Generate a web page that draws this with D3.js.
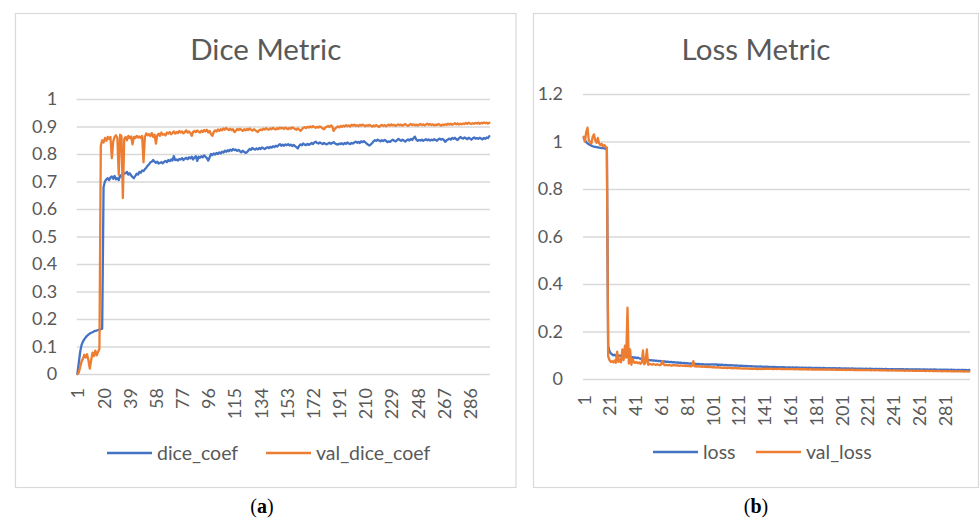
<!DOCTYPE html>
<html><head><meta charset="utf-8">
<script src="https://cdn.jsdelivr.net/npm/d3@7"></script>
<style>
html,body{margin:0;padding:0;background:#fff;}
svg{display:block;}
</style></head>
<body>
<svg id="chart" width="980" height="519"></svg>
<script>
// ---------- DATA ----------
const epochs = d3.range(1, 301);
const diceTickLabels = [1, 20, 39, 58, 77, 96, 115, 134, 153, 172, 191, 210, 229, 248, 267, 286];
const lossTickLabels = [1, 21, 41, 61, 81, 101, 121, 141, 161, 181, 201, 221, 241, 261, 281];
const diceYTicks = [0, 0.1, 0.2, 0.3, 0.4, 0.5, 0.6, 0.7, 0.8, 0.9, 1];
const lossYTicks = [0, 0.2, 0.4, 0.6, 0.8, 1, 1.2];

const dice_coef = [
0.000,0.040,0.080,0.105,0.118,0.126,0.133,0.139,0.143,0.147,
0.150,0.152,0.155,0.157,0.158,0.160,0.162,0.163,0.165,0.680,
0.700,0.708,0.712,0.705,0.715,0.718,0.710,0.720,0.708,0.712,
0.705,0.722,0.718,0.732,0.728,0.730,0.735,0.725,0.730,0.722,
0.716,0.712,0.720,0.728,0.725,0.735,0.732,0.740,0.738,0.745,
0.750,0.758,0.762,0.770,0.772,0.778,0.772,0.768,0.772,0.765,
0.768,0.770,0.766,0.772,0.775,0.770,0.778,0.774,0.780,0.776,
0.792,0.778,0.780,0.776,0.782,0.780,0.785,0.778,0.783,0.786,
0.781,0.788,0.784,0.790,0.780,0.788,0.792,0.775,0.790,0.786,
0.792,0.788,0.795,0.790,0.785,0.776,0.788,0.800,0.796,0.802,
0.798,0.804,0.800,0.806,0.802,0.808,0.805,0.812,0.808,0.814,
0.810,0.816,0.812,0.818,0.814,0.816,0.811,0.815,0.810,0.806,
0.812,0.808,0.804,0.806,0.812,0.818,0.815,0.822,0.818,0.816,
0.820,0.817,0.822,0.818,0.824,0.821,0.818,0.822,0.825,0.821,
0.826,0.823,0.828,0.825,0.830,0.827,0.832,0.836,0.830,0.834,
0.830,0.835,0.832,0.836,0.831,0.834,0.829,0.833,0.828,0.825,
0.820,0.830,0.835,0.832,0.838,0.834,0.832,0.837,0.833,0.836,
0.840,0.836,0.842,0.845,0.840,0.838,0.842,0.839,0.836,0.840,
0.837,0.835,0.838,0.841,0.837,0.840,0.843,0.838,0.836,0.834,
0.838,0.836,0.839,0.835,0.840,0.837,0.842,0.838,0.836,0.840,
0.838,0.842,0.845,0.841,0.844,0.840,0.846,0.843,0.847,0.842,
0.838,0.834,0.831,0.835,0.840,0.846,0.850,0.848,0.852,0.849,
0.846,0.850,0.847,0.851,0.848,0.843,0.846,0.844,0.849,0.852,
0.848,0.846,0.850,0.855,0.851,0.848,0.852,0.849,0.845,0.850,
0.853,0.849,0.855,0.851,0.858,0.863,0.852,0.848,0.851,0.849,
0.852,0.848,0.851,0.854,0.850,0.853,0.849,0.852,0.850,0.854,
0.851,0.848,0.853,0.856,0.852,0.855,0.851,0.844,0.850,0.853,
0.856,0.852,0.858,0.855,0.859,0.854,0.851,0.857,0.862,0.858,
0.856,0.860,0.857,0.854,0.859,0.856,0.852,0.857,0.860,0.856,
0.858,0.855,0.859,0.856,0.853,0.858,0.855,0.860,0.858,0.865];

const val_dice_coef = [
0.000,0.005,0.025,0.045,0.055,0.070,0.060,0.072,0.050,0.020,
0.050,0.078,0.065,0.085,0.068,0.080,0.092,0.830,0.850,0.842,
0.858,0.848,0.862,0.855,0.862,0.785,0.845,0.862,0.868,0.858,
0.725,0.870,0.865,0.640,0.855,0.862,0.850,0.866,0.858,0.864,
0.835,0.862,0.858,0.866,0.860,0.864,0.858,0.866,0.770,0.862,
0.875,0.868,0.872,0.865,0.876,0.862,0.870,0.838,0.868,0.874,
0.866,0.878,0.870,0.872,0.868,0.878,0.874,0.880,0.872,0.876,
0.882,0.874,0.880,0.876,0.884,0.878,0.882,0.875,0.880,0.886,
0.878,0.882,0.876,0.866,0.880,0.884,0.879,0.886,0.881,0.878,
0.885,0.880,0.887,0.882,0.888,0.878,0.884,0.872,0.866,0.880,
0.886,0.882,0.889,0.884,0.890,0.886,0.893,0.888,0.895,0.890,
0.887,0.892,0.886,0.890,0.880,0.884,0.891,0.887,0.892,0.888,
0.884,0.890,0.886,0.891,0.887,0.893,0.889,0.885,0.890,0.887,
0.883,0.880,0.886,0.889,0.887,0.892,0.889,0.894,0.890,0.888,
0.893,0.890,0.895,0.891,0.889,0.894,0.891,0.896,0.893,0.895,
0.891,0.896,0.893,0.890,0.895,0.892,0.897,0.894,0.891,0.888,
0.893,0.889,0.884,0.890,0.895,0.898,0.894,0.899,0.896,0.900,
0.897,0.901,0.898,0.895,0.899,0.896,0.900,0.897,0.893,0.890,
0.896,0.899,0.902,0.898,0.904,0.900,0.884,0.892,0.896,0.900,
0.897,0.902,0.899,0.903,0.900,0.905,0.901,0.904,0.900,0.906,
0.903,0.907,0.902,0.905,0.901,0.906,0.903,0.907,0.904,0.901,
0.905,0.902,0.906,0.903,0.900,0.904,0.901,0.905,0.902,0.898,
0.903,0.906,0.902,0.905,0.901,0.904,0.907,0.903,0.908,0.904,
0.906,0.902,0.905,0.908,0.904,0.907,0.903,0.906,0.909,0.905,
0.902,0.906,0.909,0.905,0.908,0.904,0.907,0.903,0.906,0.909,
0.905,0.908,0.904,0.907,0.910,0.906,0.909,0.905,0.908,0.904,
0.907,0.905,0.909,0.906,0.903,0.907,0.905,0.908,0.906,0.910,
0.907,0.910,0.906,0.909,0.912,0.908,0.911,0.907,0.910,0.908,
0.911,0.909,0.913,0.910,0.914,0.911,0.909,0.912,0.910,0.913,
0.911,0.914,0.910,0.913,0.911,0.915,0.912,0.914,0.911,0.914];

const loss = [
1.015,1.005,0.998,0.992,0.988,0.985,0.982,0.980,0.978,0.977,
0.976,0.975,0.974,0.973,0.972,0.972,0.971,0.970,0.968,0.140,
0.118,0.108,0.104,0.100,0.102,0.098,0.100,0.097,0.099,0.096,
0.098,0.094,0.096,0.093,0.095,0.092,0.094,0.090,0.092,0.089,
0.091,0.088,0.090,0.087,0.086,0.084,0.085,0.082,0.083,0.080,
0.081,0.079,0.078,0.079,0.077,0.078,0.076,0.077,0.075,0.076,
0.074,0.075,0.073,0.074,0.072,0.073,0.072,0.071,0.072,0.070,
0.071,0.070,0.069,0.070,0.068,0.069,0.068,0.067,0.068,0.066,
0.067,0.066,0.065,0.066,0.065,0.064,0.065,0.064,0.063,0.064,
0.063,0.062,0.063,0.062,0.061,0.062,0.061,0.062,0.061,0.062,
0.062,0.061,0.062,0.060,0.061,0.060,0.059,0.060,0.059,0.058,
0.059,0.058,0.058,0.057,0.058,0.057,0.057,0.056,0.057,0.056,
0.056,0.055,0.056,0.055,0.055,0.054,0.055,0.054,0.054,0.053,
0.054,0.053,0.053,0.052,0.053,0.052,0.052,0.053,0.052,0.051,
0.052,0.051,0.052,0.051,0.051,0.050,0.051,0.050,0.051,0.050,
0.050,0.050,0.049,0.050,0.049,0.050,0.049,0.049,0.048,0.049,
0.049,0.048,0.049,0.048,0.048,0.049,0.048,0.048,0.047,0.048,
0.048,0.047,0.048,0.047,0.047,0.048,0.047,0.047,0.046,0.047,
0.047,0.047,0.046,0.047,0.046,0.046,0.047,0.046,0.046,0.045,
0.046,0.046,0.045,0.046,0.045,0.046,0.045,0.045,0.046,0.045,
0.045,0.044,0.045,0.045,0.044,0.045,0.044,0.044,0.045,0.044,
0.044,0.044,0.043,0.044,0.044,0.043,0.044,0.043,0.043,0.044,
0.043,0.043,0.044,0.043,0.043,0.042,0.043,0.043,0.042,0.043,
0.042,0.043,0.042,0.042,0.043,0.042,0.042,0.041,0.042,0.042,
0.042,0.041,0.042,0.041,0.041,0.042,0.041,0.041,0.041,0.040,
0.041,0.041,0.040,0.041,0.040,0.041,0.040,0.040,0.041,0.040,
0.040,0.040,0.039,0.040,0.040,0.039,0.040,0.039,0.039,0.040,
0.039,0.039,0.040,0.039,0.039,0.038,0.039,0.039,0.038,0.039,
0.039,0.038,0.039,0.038,0.038,0.039,0.038,0.038,0.038,0.037,
0.038,0.038,0.037,0.038,0.038,0.037,0.038,0.037,0.037,0.038];

const val_loss = [
1.020,1.000,1.040,1.058,1.005,0.998,0.990,1.020,1.030,1.005,
0.995,1.015,0.992,0.985,0.990,0.980,0.985,0.978,0.975,0.095,
0.080,0.072,0.075,0.070,0.078,0.068,0.115,0.072,0.085,0.070,
0.125,0.080,0.140,0.090,0.300,0.065,0.125,0.060,0.085,0.070,
0.068,0.072,0.066,0.070,0.064,0.068,0.120,0.062,0.070,0.125,
0.060,0.064,0.062,0.060,0.063,0.061,0.059,0.062,0.060,0.058,
0.061,0.075,0.062,0.058,0.060,0.057,0.059,0.058,0.056,0.058,
0.057,0.059,0.056,0.058,0.055,0.057,0.056,0.055,0.057,0.054,
0.056,0.054,0.055,0.053,0.055,0.075,0.053,0.054,0.052,0.054,
0.052,0.053,0.051,0.053,0.051,0.052,0.050,0.052,0.050,0.051,
0.049,0.050,0.049,0.048,0.050,0.048,0.049,0.047,0.048,0.047,
0.048,0.046,0.047,0.047,0.046,0.047,0.045,0.046,0.046,0.045,
0.046,0.045,0.045,0.044,0.045,0.044,0.045,0.044,0.044,0.043,
0.044,0.043,0.044,0.043,0.043,0.042,0.043,0.043,0.042,0.043,
0.044,0.043,0.044,0.043,0.043,0.044,0.043,0.042,0.043,0.043,
0.042,0.043,0.043,0.042,0.043,0.042,0.042,0.043,0.042,0.042,
0.042,0.043,0.042,0.042,0.041,0.042,0.042,0.041,0.042,0.041,
0.041,0.042,0.041,0.041,0.040,0.041,0.041,0.040,0.041,0.040,
0.040,0.041,0.040,0.040,0.040,0.039,0.040,0.040,0.039,0.040,
0.039,0.040,0.039,0.039,0.040,0.039,0.039,0.038,0.039,0.039,
0.039,0.038,0.039,0.038,0.038,0.039,0.038,0.038,0.039,0.038,
0.038,0.037,0.038,0.038,0.037,0.038,0.037,0.038,0.037,0.037,
0.038,0.037,0.037,0.036,0.037,0.037,0.036,0.037,0.037,0.036,
0.037,0.036,0.036,0.037,0.036,0.036,0.035,0.036,0.036,0.035,
0.036,0.036,0.035,0.036,0.035,0.035,0.036,0.035,0.035,0.034,
0.035,0.035,0.034,0.035,0.035,0.034,0.035,0.034,0.034,0.035,
0.034,0.034,0.035,0.034,0.034,0.033,0.034,0.034,0.033,0.034,
0.034,0.033,0.034,0.033,0.033,0.034,0.033,0.033,0.032,0.033,
0.033,0.033,0.032,0.033,0.033,0.032,0.033,0.032,0.032,0.033,
0.032,0.032,0.033,0.032,0.032,0.031,0.032,0.032,0.031,0.032];

// ---------- STYLE ----------
const BLUE = "#4472C4", ORANGE = "#ED7D31";
const TEXT = "#595959", GRID = "#D9D9D9";
const FONT = "Lato, 'Open Sans', sans-serif";

const svg = d3.select("#chart");

function panel(cfg) {
  const g = svg.append("g");
  g.append("rect")
    .attr("x", cfg.frame[0]).attr("y", cfg.frame[1])
    .attr("width", cfg.frame[2]).attr("height", cfg.frame[3])
    .attr("fill", "none").attr("stroke", GRID).attr("stroke-width", 1.2);

  const x = d3.scalePoint().domain(epochs).range([cfg.left, cfg.right]).padding(0.5);
  const y = d3.scaleLinear().domain(cfg.yDomain).range([cfg.bottom, cfg.top]);

  const ya = g.append("g").attr("transform", `translate(${cfg.left},0)`)
    .call(d3.axisLeft(y).tickValues(cfg.yTicks).tickFormat(d3.format("")).tickSizeInner(-(cfg.right - cfg.left)).tickSizeOuter(0).tickPadding(cfg.yPad));
  ya.select(".domain").remove();
  ya.selectAll("line").attr("stroke", GRID).attr("stroke-width", 1.3);
  ya.selectAll("text").attr("fill", TEXT).style("font-family", FONT).style("font-size", "18px");

  const xa = g.append("g").attr("transform", `translate(0,${cfg.bottom})`)
    .call(d3.axisBottom(x).tickValues(cfg.xTicks).tickSize(0));
  xa.select(".domain").remove();
  xa.selectAll("text")
    .attr("transform", "rotate(-90)")
    .attr("x", -cfg.xGap).attr("y", 0).attr("dy", "0.36em")
    .style("text-anchor", "end")
    .attr("fill", TEXT).style("font-family", FONT).style("font-size", "18px");

  const line = d3.line().x((d, i) => x(epochs[i])).y(d => y(d));
  cfg.series.forEach(s => {
    g.append("path").datum(s.values)
      .attr("d", line).attr("fill", "none")
      .attr("stroke", s.color).attr("stroke-width", 2.3)
      .attr("stroke-linejoin", "round").attr("stroke-linecap", "round");
  });

  g.append("text").attr("x", cfg.frame[0] + cfg.frame[2] / 2).attr("y", 60)
    .attr("text-anchor", "middle").attr("fill", TEXT)
    .style("font-family", FONT).style("font-size", "29.5px").text(cfg.title);

  cfg.series.forEach(s => {
    g.append("line").attr("x1", s.lx).attr("x2", s.lx + 45)
      .attr("y1", cfg.legendY).attr("y2", cfg.legendY)
      .attr("stroke", s.color).attr("stroke-width", 2.3);
    g.append("text").attr("x", s.lx + 50).attr("y", cfg.legendY).attr("dy", "0.35em")
      .attr("fill", TEXT).style("font-family", FONT).style("font-size", "19.5px").text(s.name);
  });

  const cap = svg.append("text").attr("x", cfg.capX).attr("y", 513)
    .attr("text-anchor", "middle").attr("fill", "#000")
    .style("font-family", "'Liberation Serif', 'Times New Roman', serif").style("font-size", "20px");
  cap.append("tspan").text("(");
  cap.append("tspan").attr("font-weight", "bold").text(cfg.cap);
  cap.append("tspan").text(")");
}

panel({
  frame: [15.5, 13.5, 500.5, 474],
  left: 76.7, right: 490, top: 99, bottom: 374,
  yDomain: [0, 1], yTicks: diceYTicks, yPad: 19.5,
  xTicks: diceTickLabels, xGap: 14,
  title: "Dice Metric", legendY: 453,
  series: [
    {name: "dice_coef", values: dice_coef, color: BLUE, lx: 107},
    {name: "val_dice_coef", values: val_dice_coef, color: ORANGE, lx: 266}
  ],
  capX: 262, cap: "a"
});

panel({
  frame: [533.5, 13.5, 445, 474],
  left: 583, right: 970, top: 94, bottom: 379,
  yDomain: [0, 1.2], yTicks: lossYTicks, yPad: 20,
  xTicks: lossTickLabels, xGap: 16,
  title: "Loss Metric", legendY: 452,
  series: [
    {name: "loss", values: loss, color: BLUE, lx: 653},
    {name: "val_loss", values: val_loss, color: ORANGE, lx: 756}
  ],
  capX: 756, cap: "b"
});
</script>
</body></html>
